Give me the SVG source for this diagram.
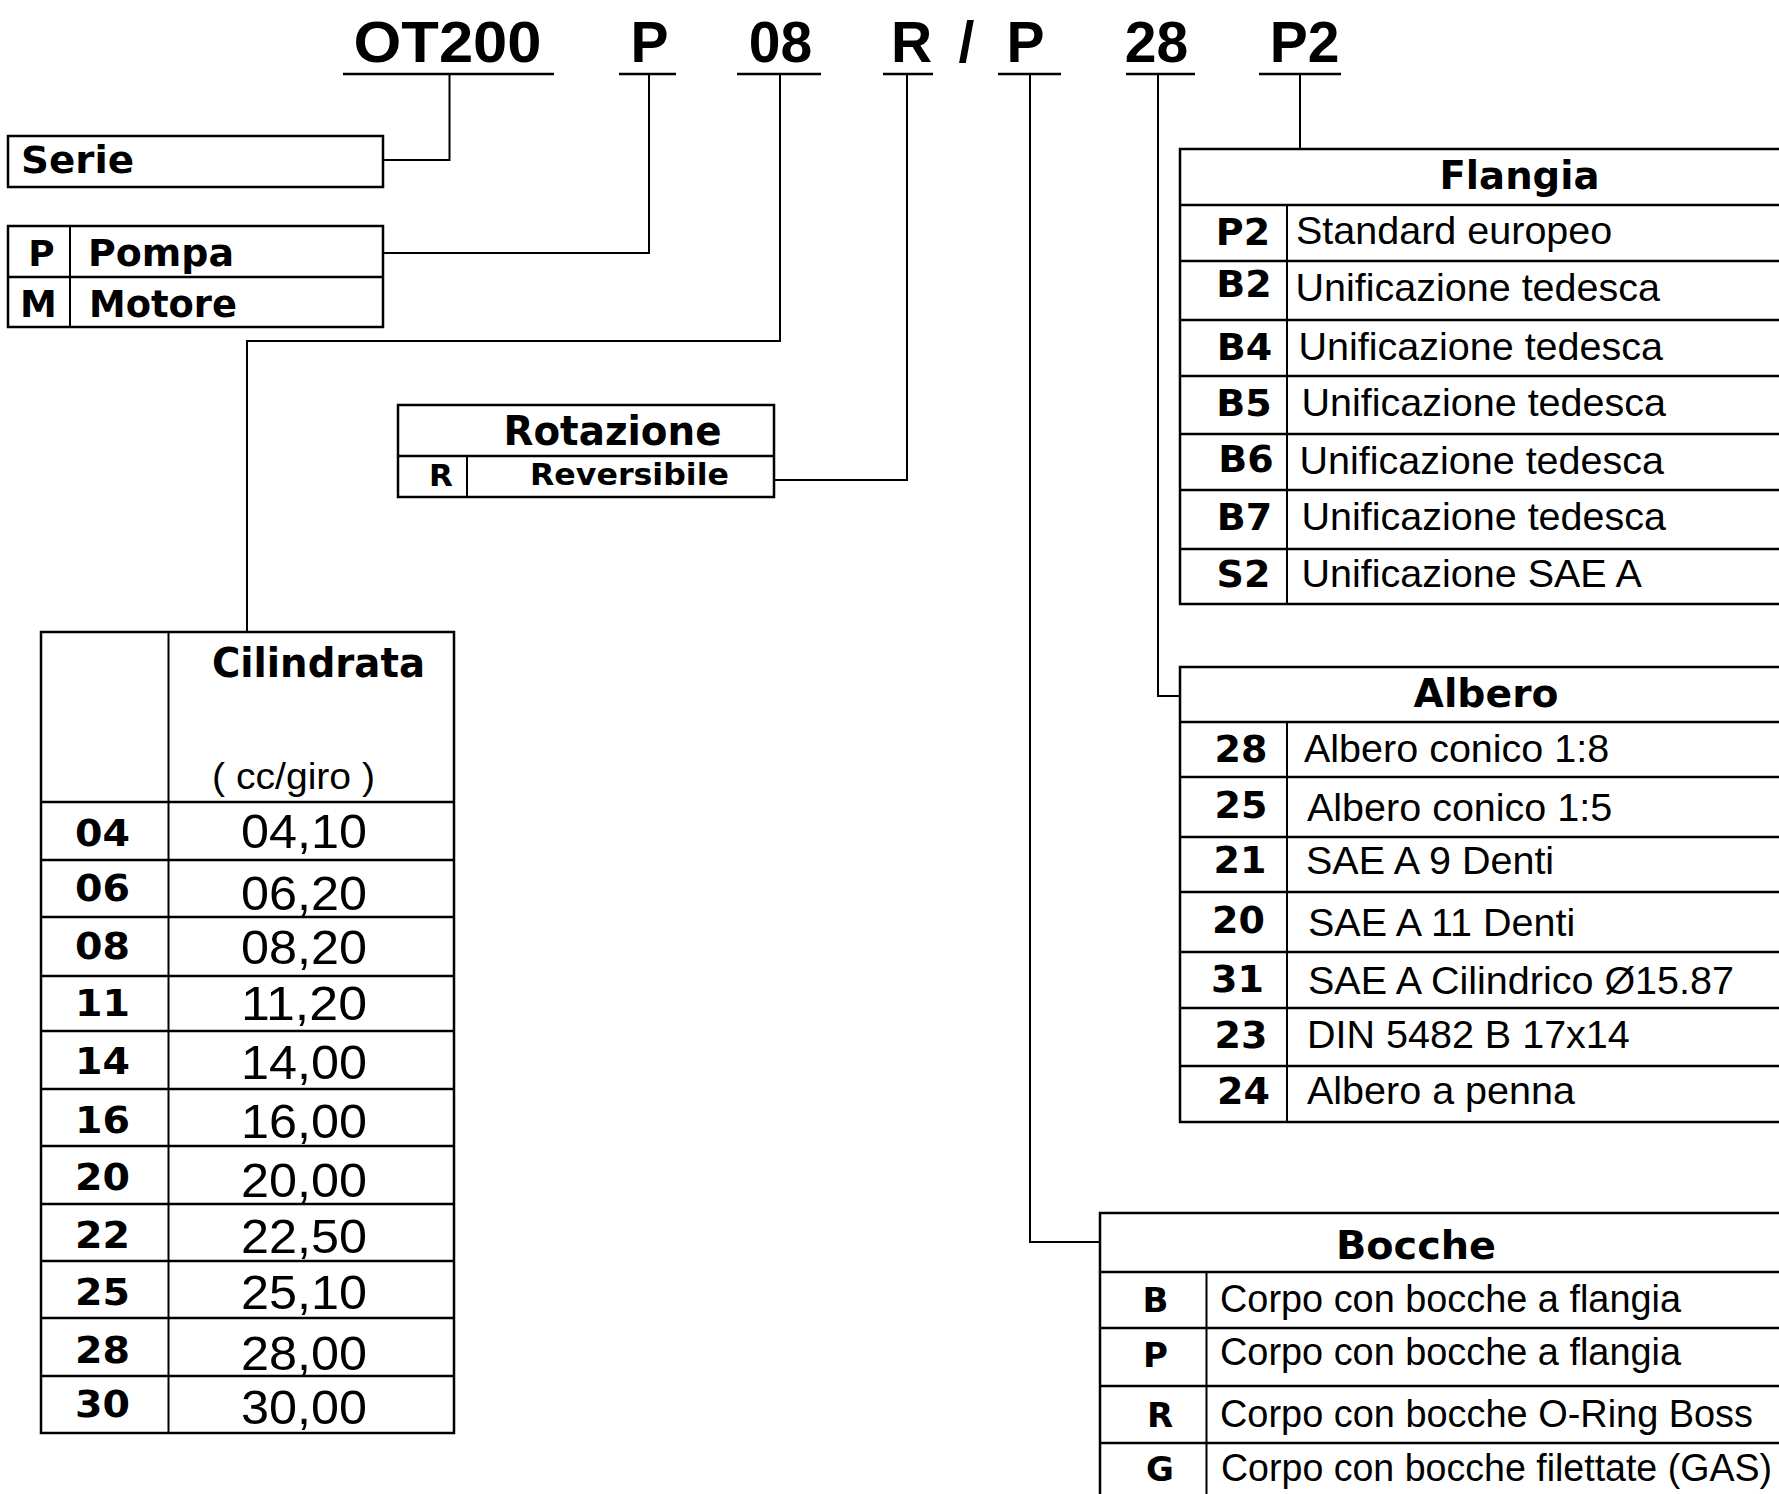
<svg xmlns="http://www.w3.org/2000/svg" width="1779" height="1494" viewBox="0 0 1779 1494">
<style>
.hd{font-family:"Liberation Sans",Arial,sans-serif;font-weight:bold;font-size:57px;fill:#000;text-anchor:middle}
.b{font-family:"DejaVu Sans",Verdana,sans-serif;font-weight:bold;fill:#000}
.m{text-anchor:middle}
.r{font-family:"Liberation Sans",Arial,sans-serif;fill:#000}
.box{fill:#fff;stroke:#000;stroke-width:2.5}
.ln{stroke:#000;stroke-width:2.5;fill:none}
.col{stroke:#000;stroke-width:2;fill:none}
.con{stroke:#000;stroke-width:2;fill:none}
</style>
<rect x="0" y="0" width="1779" height="1494" fill="#fff"/>

<g id="codice">
  <text class="hd" x="447.5" y="62" textLength="188" lengthAdjust="spacingAndGlyphs">OT200</text>
  <text class="hd" x="649.5" y="62">P</text>
  <text class="hd" x="780.5" y="62">08</text>
  <text class="hd" x="911.5" y="62">R</text>
  <text class="hd" x="966.5" y="62">/</text>
  <text class="hd" x="1025.5" y="62">P</text>
  <text class="hd" x="1156.5" y="62">28</text>
  <text class="hd" x="1304.5" y="62">P2</text>
  <path class="ln" d="M343 74H554M619 74H676M737 74H821M883 74H933M998 74H1061M1126 74H1195M1259 74H1341"/>
</g>

<g id="connectors">
  <path class="con" d="M449.5 74V160H383"/>
  <path class="con" d="M649 74V253H383"/>
  <path class="con" d="M780 74V341H247V632"/>
  <path class="con" d="M907 74V480H774"/>
  <path class="con" d="M1030 74V1242H1100"/>
  <path class="con" d="M1158 74V696H1179"/>
  <path class="con" d="M1300 74V149"/>
</g>

<g id="serie">
  <rect class="box" x="8" y="136" width="375" height="51"/>
  <text class="b" x="21" y="173" font-size="37" textLength="113" lengthAdjust="spacingAndGlyphs">Serie</text>
</g>

<g id="tipo">
  <rect class="box" x="8" y="226" width="375" height="101"/>
  <path class="ln" d="M8 277H383"/>
  <path class="col" d="M70 226V327"/>
  <text class="b m" x="41.5" y="266" font-size="36">P</text>
  <text class="b" x="88" y="266" font-size="37" textLength="146" lengthAdjust="spacingAndGlyphs">Pompa</text>
  <text class="b m" x="38.5" y="317" font-size="37">M</text>
  <text class="b" x="89" y="317" font-size="37" textLength="148" lengthAdjust="spacingAndGlyphs">Motore</text>
</g>

<g id="rotazione">
  <rect class="box" x="398" y="405" width="376" height="92"/>
  <path class="ln" d="M398 456H774"/>
  <path class="col" d="M467 456V497"/>
  <text class="b m" x="612.5" y="445" font-size="40" textLength="218" lengthAdjust="spacingAndGlyphs">Rotazione</text>
  <text class="b m" x="441" y="486" font-size="31">R</text>
  <text class="b m" x="629.5" y="485" font-size="30" textLength="199" lengthAdjust="spacingAndGlyphs">Reversibile</text>
</g>

<g id="cilindrata">
  <rect class="box" x="41" y="632" width="413" height="801"/>
  <path class="col" d="M168.5 632V1433"/>
  <path class="ln" d="M41 802H454M41 860H454M41 917H454M41 976H454M41 1031H454M41 1089H454M41 1146H454M41 1204H454M41 1261H454M41 1318H454M41 1376H454"/>
  <text class="b" x="212" y="677" font-size="40" textLength="213" lengthAdjust="spacingAndGlyphs">Cilindrata</text>
  <text class="r" x="212" y="789" font-size="36" textLength="163" lengthAdjust="spacingAndGlyphs">( cc/giro )</text>
  <g class="b" font-size="38">
    <text x="75" y="846" textLength="55" lengthAdjust="spacingAndGlyphs">04</text>
    <text x="75" y="901" textLength="55" lengthAdjust="spacingAndGlyphs">06</text>
    <text x="75" y="959" textLength="55" lengthAdjust="spacingAndGlyphs">08</text>
    <text x="75" y="1016" textLength="55" lengthAdjust="spacingAndGlyphs">11</text>
    <text x="75" y="1074" textLength="55" lengthAdjust="spacingAndGlyphs">14</text>
    <text x="75" y="1133" textLength="55" lengthAdjust="spacingAndGlyphs">16</text>
    <text x="75" y="1190" textLength="55" lengthAdjust="spacingAndGlyphs">20</text>
    <text x="75" y="1248" textLength="55" lengthAdjust="spacingAndGlyphs">22</text>
    <text x="75" y="1305" textLength="55" lengthAdjust="spacingAndGlyphs">25</text>
    <text x="75" y="1363" textLength="55" lengthAdjust="spacingAndGlyphs">28</text>
    <text x="75" y="1417" textLength="55" lengthAdjust="spacingAndGlyphs">30</text>
  </g>
  <g class="r" font-size="49">
    <text x="241" y="848" textLength="126" lengthAdjust="spacingAndGlyphs">04,10</text>
    <text x="241" y="910" textLength="126" lengthAdjust="spacingAndGlyphs">06,20</text>
    <text x="241" y="964" textLength="126" lengthAdjust="spacingAndGlyphs">08,20</text>
    <text x="241" y="1020" textLength="126" lengthAdjust="spacingAndGlyphs">11,20</text>
    <text x="241" y="1079" textLength="126" lengthAdjust="spacingAndGlyphs">14,00</text>
    <text x="241" y="1138" textLength="126" lengthAdjust="spacingAndGlyphs">16,00</text>
    <text x="241" y="1197" textLength="126" lengthAdjust="spacingAndGlyphs">20,00</text>
    <text x="241" y="1253" textLength="126" lengthAdjust="spacingAndGlyphs">22,50</text>
    <text x="241" y="1309" textLength="126" lengthAdjust="spacingAndGlyphs">25,10</text>
    <text x="241" y="1370" textLength="126" lengthAdjust="spacingAndGlyphs">28,00</text>
    <text x="241" y="1424" textLength="126" lengthAdjust="spacingAndGlyphs">30,00</text>
  </g>
</g>

<g id="flangia">
  <rect class="box" x="1180" y="149" width="640" height="455"/>
  <path class="ln" d="M1180 205H1820M1180 261H1820M1180 320H1820M1180 376H1820M1180 434H1820M1180 490H1820M1180 549H1820"/>
  <path class="col" d="M1287 205V604"/>
  <text class="b m" x="1519.5" y="189" font-size="39" textLength="160" lengthAdjust="spacingAndGlyphs">Flangia</text>
  <g class="b m" font-size="38">
    <text x="1243" y="245">P2</text>
    <text x="1244" y="297">B2</text>
    <text x="1244.5" y="360">B4</text>
    <text x="1244" y="416">B5</text>
    <text x="1246" y="472">B6</text>
    <text x="1244.5" y="530">B7</text>
    <text x="1243.5" y="587">S2</text>
  </g>
  <g class="r" font-size="39.5">
    <text x="1296" y="244">Standard europeo</text>
    <text x="1295.5" y="301">Unificazione tedesca</text>
    <text x="1298.5" y="360">Unificazione tedesca</text>
    <text x="1301.5" y="416">Unificazione tedesca</text>
    <text x="1299.5" y="474">Unificazione tedesca</text>
    <text x="1301.5" y="530">Unificazione tedesca</text>
    <text x="1301.5" y="587">Unificazione SAE A</text>
  </g>
</g>

<g id="albero">
  <rect class="box" x="1180" y="667" width="640" height="455"/>
  <path class="ln" d="M1180 722H1820M1180 777H1820M1180 837H1820M1180 892H1820M1180 952H1820M1180 1008H1820M1180 1066H1820"/>
  <path class="col" d="M1287 722V1122"/>
  <text class="b m" x="1486" y="707" font-size="39" textLength="145" lengthAdjust="spacingAndGlyphs">Albero</text>
  <g class="b m" font-size="38">
    <text x="1241" y="762">28</text>
    <text x="1241" y="818">25</text>
    <text x="1240" y="873">21</text>
    <text x="1238.5" y="933">20</text>
    <text x="1237.5" y="992">31</text>
    <text x="1241" y="1048">23</text>
    <text x="1243.5" y="1104">24</text>
  </g>
  <g class="r" font-size="39.5">
    <text x="1304" y="762">Albero conico 1:8</text>
    <text x="1307" y="821">Albero conico 1:5</text>
    <text x="1306" y="874">SAE A 9 Denti</text>
    <text x="1308" y="936">SAE A 11 Denti</text>
    <text x="1308" y="994">SAE A Cilindrico Ø15.87</text>
    <text x="1307" y="1048">DIN 5482 B 17x14</text>
    <text x="1307" y="1104">Albero a penna</text>
  </g>
</g>

<g id="bocche">
  <rect class="box" x="1100" y="1213" width="720" height="320"/>
  <path class="ln" d="M1100 1272H1820M1100 1328H1820M1100 1386H1820M1100 1443H1820"/>
  <path class="col" d="M1206.5 1272V1533"/>
  <text class="b m" x="1416" y="1259" font-size="39" textLength="160" lengthAdjust="spacingAndGlyphs">Bocche</text>
  <g class="b m" font-size="34">
    <text x="1155.5" y="1312">B</text>
    <text x="1155.5" y="1367">P</text>
    <text x="1160" y="1427">R</text>
    <text x="1160" y="1481">G</text>
  </g>
  <g class="r" font-size="38">
    <text x="1220" y="1312" textLength="461" lengthAdjust="spacingAndGlyphs">Corpo con bocche a flangia</text>
    <text x="1220" y="1365" textLength="461" lengthAdjust="spacingAndGlyphs">Corpo con bocche a flangia</text>
    <text x="1220" y="1427" textLength="533" lengthAdjust="spacingAndGlyphs">Corpo con bocche O-Ring Boss</text>
    <text x="1221" y="1481" textLength="551" lengthAdjust="spacingAndGlyphs">Corpo con bocche filettate (GAS)</text>
  </g>
</g>
</svg>
